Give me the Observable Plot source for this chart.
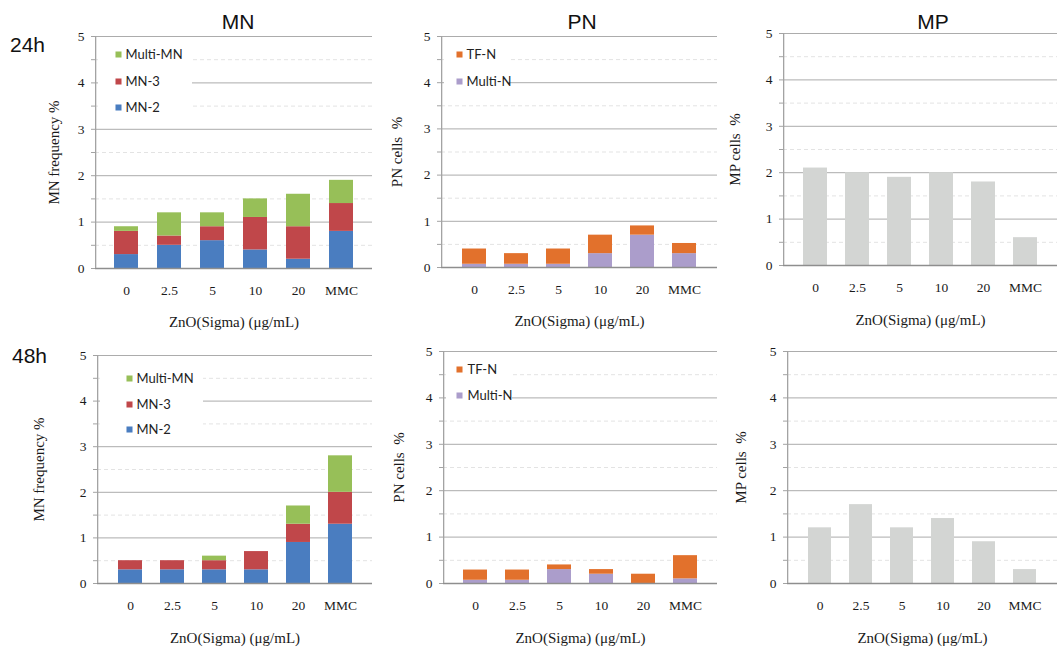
<!DOCTYPE html>
<html>
<head>
<meta charset="utf-8">
<script src="https://cdn.jsdelivr.net/npm/d3@7"></script>
<script src="https://cdn.jsdelivr.net/npm/@observablehq/plot@0.6"></script>
<style>
  body { margin: 0; background: #fff; }
  #root { position: relative; width: 1062px; height: 650px; overflow: hidden; background: #fff; }
  .lbl { position: absolute; font-family: "Liberation Sans", Arial, sans-serif; font-size: 21px; line-height: 1; color: #111; white-space: nowrap; }
  .ttl { transform: translateX(-50%); }
</style>
</head>
<body>
<div id="root"></div>
<script>
// ---------- data ----------
const doses = ["0", "2.5", "5", "10", "20", "MMC"];
const xLabel = "ZnO(Sigma) (μg/mL)";

const mnSeries = ["MN-2", "MN-3", "Multi-MN"];
const mnColors = ["#4a7dc0", "#c0474a", "#97bf58"];
const mn24_MN2   = [0.3, 0.5, 0.6, 0.4, 0.2, 0.8];
const mn24_MN3   = [0.5, 0.2, 0.3, 0.7, 0.7, 0.6];
const mn24_Multi = [0.1, 0.5, 0.3, 0.4, 0.7, 0.5];
const mn48_MN2   = [0.3, 0.3, 0.3, 0.3, 0.9, 1.3];
const mn48_MN3   = [0.2, 0.2, 0.2, 0.4, 0.4, 0.7];
const mn48_Multi = [0.0, 0.0, 0.1, 0.0, 0.4, 0.8];

const pnSeries = ["Multi-N", "TF-N"];
const pnColors = ["#ab9dcb", "#e2712c"];
const pn24_MultiN = [0.07, 0.07, 0.07, 0.3, 0.7, 0.3];
const pn24_TFN    = [0.33, 0.23, 0.33, 0.4, 0.2, 0.22];
const pn48_MultiN = [0.07, 0.07, 0.3, 0.2, 0.0, 0.1];
const pn48_TFN    = [0.22, 0.22, 0.1, 0.1, 0.2, 0.5];

const mpSeries = ["MP"];
const mpColors = ["#d3d5d3"];
const mp24 = [2.1, 2.0, 1.9, 2.0, 1.8, 0.6];
const mp48 = [1.2, 1.7, 1.2, 1.4, 0.9, 0.3];

const yTicks = [0, 0.5, 1, 1.5, 2, 2.5, 3, 3.5, 4, 4.5, 5];
const majorGrid = [1, 2, 3, 4, 5];
const minorGrid = [0.5, 1.5, 2.5, 3.5, 4.5];

function longRows(names, arrays) {
  return names.flatMap((s, i) => doses.map((d, j) => ({dose: d, series: s, value: arrays[i][j]})));
}

// ---------- layout ----------
const root = document.getElementById("root");
const mL = 80, mR = 6, mT = 14, mB = 72;

function panel(cfg) {
  const {fx, fy, fw, fh, rows, series, colors, yLabel, yLabelDx, legend} = cfg;
  const marks = [
    Plot.ruleY(minorGrid, {stroke: "#e3e3e3", strokeDasharray: "4,3"}),
    Plot.ruleY(majorGrid, {stroke: "#acacac"})
  ];
  if (legend) {
    marks.push(Plot.rect([0], {fill: "white", insetLeft: 3, insetRight: fw - legend.bgW,
      insetTop: legend.bgTop, insetBottom: fh - legend.bgBottom}));
  }
  marks.push(Plot.barY(rows, {x: "dose", y: "value", fill: "series"}));
  marks.push(Plot.ruleY([0], {stroke: "#8e8e8e", strokeWidth: 1.5}));
  marks.push(Plot.rect([0], {fill: "#a3a3a3", insetRight: fw - 1.3}));
  marks.push(Plot.axisY(yTicks, {tickSize: 4, tickPadding: 7, stroke: "#a3a3a3", fill: "#1a1a1a",
    fontSize: 13.5, label: null, tickFormat: d => Number.isInteger(d) ? String(d) : ""}));
  marks.push(Plot.axisX({tickSize: 0, tickPadding: 17, fontSize: 13.5, fill: "#1a1a1a", label: null}));
  marks.push(Plot.text([yLabel], {frameAnchor: "left", dx: -yLabelDx, rotate: -90,
    textAnchor: "middle", lineAnchor: "middle", fontSize: 15, fill: "#1a1a1a"}));
  marks.push(Plot.text([xLabel], {frameAnchor: "bottom", dy: cfg.xLabelDy, textAnchor: "middle",
    lineAnchor: "middle", fontSize: 15, fill: "#1a1a1a"}));
  if (legend) {
    legend.items.forEach(it => {
      marks.push(Plot.dot([0], {frameAnchor: "top-left", dx: legend.sx, dy: it.dy, r: 3.4,
        symbol: "square", fill: it.color, stroke: null}));
      marks.push(Plot.text([it.label], {frameAnchor: "top-left", dx: legend.tx, dy: it.dy,
        textAnchor: "start", lineAnchor: "middle", fontFamily: "Lato, 'Open Sans', sans-serif",
        fontSize: 13, fill: "#222"}));
    });
  }
  const svg = Plot.plot({
    width: fw + mL + mR,
    height: fh + mT + mB,
    marginLeft: mL, marginRight: mR, marginTop: mT, marginBottom: mB,
    style: {background: "transparent", fontFamily: "'Liberation Serif', 'Times New Roman', serif", overflow: "visible"},
    x: {domain: doses, padding: 0.44, axis: null},
    y: {domain: [0, 5], axis: null},
    color: {domain: series, range: colors},
    marks
  });
  svg.style.position = "absolute";
  svg.style.left = (fx - mL) + "px";
  svg.style.top = (fy - mT) + "px";
  root.appendChild(svg);
}

// 24h row
panel({fx: 95, fy: 36, fw: 277, fh: 232, xLabelDy: 54,
  rows: longRows(mnSeries, [mn24_MN2, mn24_MN3, mn24_Multi]), series: mnSeries, colors: mnColors,
  yLabel: "MN frequency %", yLabelDx: 41,
  legend: {sx: 23, tx: 30, bgW: 97, bgTop: 6, bgBottom: 82, items: [
    {label: "Multi-MN", color: mnColors[2], dy: 18},
    {label: "MN-3", color: mnColors[1], dy: 45},
    {label: "MN-2", color: mnColors[0], dy: 71}]}});
panel({fx: 441, fy: 36, fw: 276, fh: 231, xLabelDy: 54,
  rows: longRows(pnSeries, [pn24_MultiN, pn24_TFN]), series: pnSeries, colors: pnColors,
  yLabel: "PN cells  %", yLabelDx: 44,
  legend: {sx: 18, tx: 25, bgW: 67, bgTop: 6, bgBottom: 58, items: [
    {label: "TF-N", color: pnColors[1], dy: 18},
    {label: "Multi-N", color: pnColors[0], dy: 45}]}});
panel({fx: 783, fy: 33, fw: 274, fh: 232, xLabelDy: 55,
  rows: longRows(mpSeries, [mp24]), series: mpSeries, colors: mpColors,
  yLabel: "MP cells  %", yLabelDx: 48});

// 48h row
panel({fx: 97, fy: 355, fw: 275, fh: 228, xLabelDy: 55,
  rows: longRows(mnSeries, [mn48_MN2, mn48_MN3, mn48_Multi]), series: mnSeries, colors: mnColors,
  yLabel: "MN frequency %", yLabelDx: 58,
  legend: {sx: 32, tx: 39, bgW: 106, bgTop: 8, bgBottom: 86, items: [
    {label: "Multi-MN", color: mnColors[2], dy: 23},
    {label: "MN-3", color: mnColors[1], dy: 49},
    {label: "MN-2", color: mnColors[0], dy: 74}]}});
panel({fx: 443, fy: 351, fw: 274, fh: 232, xLabelDy: 55,
  rows: longRows(pnSeries, [pn48_MultiN, pn48_TFN]), series: pnSeries, colors: pnColors,
  yLabel: "PN cells  %", yLabelDx: 44,
  legend: {sx: 16, tx: 24, bgW: 69, bgTop: 6, bgBottom: 58, items: [
    {label: "TF-N", color: pnColors[1], dy: 18},
    {label: "Multi-N", color: pnColors[0], dy: 44}]}});
panel({fx: 787, fy: 351, fw: 270, fh: 232, xLabelDy: 55,
  rows: longRows(mpSeries, [mp48]), series: mpSeries, colors: mpColors,
  yLabel: "MP cells  %", yLabelDx: 46});

// titles and row labels
function label(text, left, top, cls) {
  const d = document.createElement("div");
  d.className = "lbl" + (cls ? " " + cls : "");
  d.textContent = text;
  d.style.left = left + "px";
  d.style.top = top + "px";
  root.appendChild(d);
}
label("MN", 238, 11, "ttl");
label("PN", 582, 11, "ttl");
label("MP", 933, 11, "ttl");
label("24h", 10, 34);
label("48h", 12, 345);
</script>
</body>
</html>
